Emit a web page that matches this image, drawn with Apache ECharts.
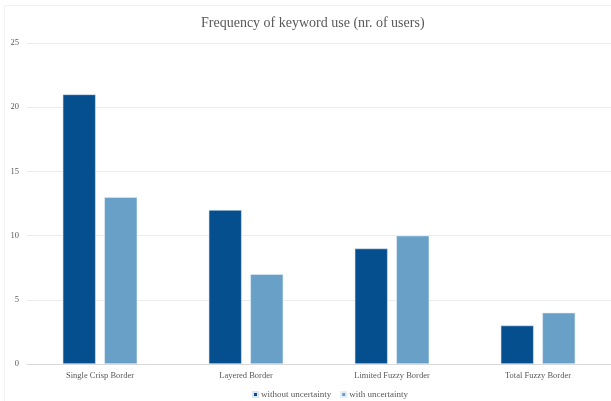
<!DOCTYPE html>
<html>
<head>
<meta charset="utf-8">
<script src="https://cdn.jsdelivr.net/npm/echarts@6/dist/echarts.min.js"></script>
<style>
  html, body { margin: 0; padding: 0; background: #fff; }
  #mainChart { width: 611px; height: 401px; }
</style>
</head>
<body>
<div id="mainChart"></div>
<script>
var categories = ['Single Crisp Border', 'Layered Border', 'Limited Fuzzy Border', 'Total Fuzzy Border'];
var withoutUncertainty = [21, 12, 9, 3];
var withUncertainty = [13, 7, 10, 4];
var yTicks = [0, 5, 10, 15, 20, 25];

var serif = '"Liberation Serif", "DejaVu Serif", serif';
var chart = echarts.init(document.getElementById('mainChart'));

var option = {
    backgroundColor: '#fff',
    animation: false,
    // faint outer frame of the chart area
    graphic: [{
        type: 'rect',
        shape: { x: 4.5, y: 5.5, width: 620, height: 420 },
        style: { fill: 'none', stroke: '#f2f2f2', lineWidth: 1 },
        silent: true
    }],
    title: {
        text: 'Frequency of keyword use (nr. of users)',
        left: 196,
        top: 11,
        textStyle: { fontFamily: serif, fontSize: 14, fontWeight: 'normal', color: '#595959' }
    },
    legend: {
        data: ['without uncertainty', 'with uncertainty'],
        top: 390,
        left: 252,
        padding: 0,
        itemWidth: 5,
        itemHeight: 5,
        itemGap: 9,
        icon: 'rect',
        textStyle: { fontFamily: serif, fontSize: 9, color: '#595959', padding: [0, 0, 0, -2] }
    },
    grid: { left: 27, top: 43, width: 587, height: 321, containLabel: false },
    xAxis: {
        type: 'category',
        data: categories,
        axisTick: { show: false },
        axisLine: { lineStyle: { color: '#d9d9d9' } },
        axisLabel: { fontFamily: serif, fontSize: 8.5, color: '#595959', margin: 7 }
    },
    yAxis: {
        type: 'value',
        min: yTicks[0],
        max: yTicks[yTicks.length - 1],
        interval: 5,
        axisLine: { show: false },
        axisTick: { show: false },
        splitLine: { lineStyle: { color: '#ececec' } },
        axisLabel: { fontFamily: serif, fontSize: 8.5, color: '#595959', margin: 8 }
    },
    series: [
        {
            name: 'without uncertainty',
            type: 'bar',
            data: withoutUncertainty,
            barWidth: 33,
            barGap: '26%',
            itemStyle: { color: '#064f8f', borderColor: '#dbe6f0', borderWidth: 0.6 }
        },
        {
            name: 'with uncertainty',
            type: 'bar',
            data: withUncertainty,
            barWidth: 33,
            itemStyle: { color: '#68a0c8', borderColor: '#e3eef6', borderWidth: 0.6 }
        }
    ]
};

chart.setOption(option);
</script>
</body>
</html>
